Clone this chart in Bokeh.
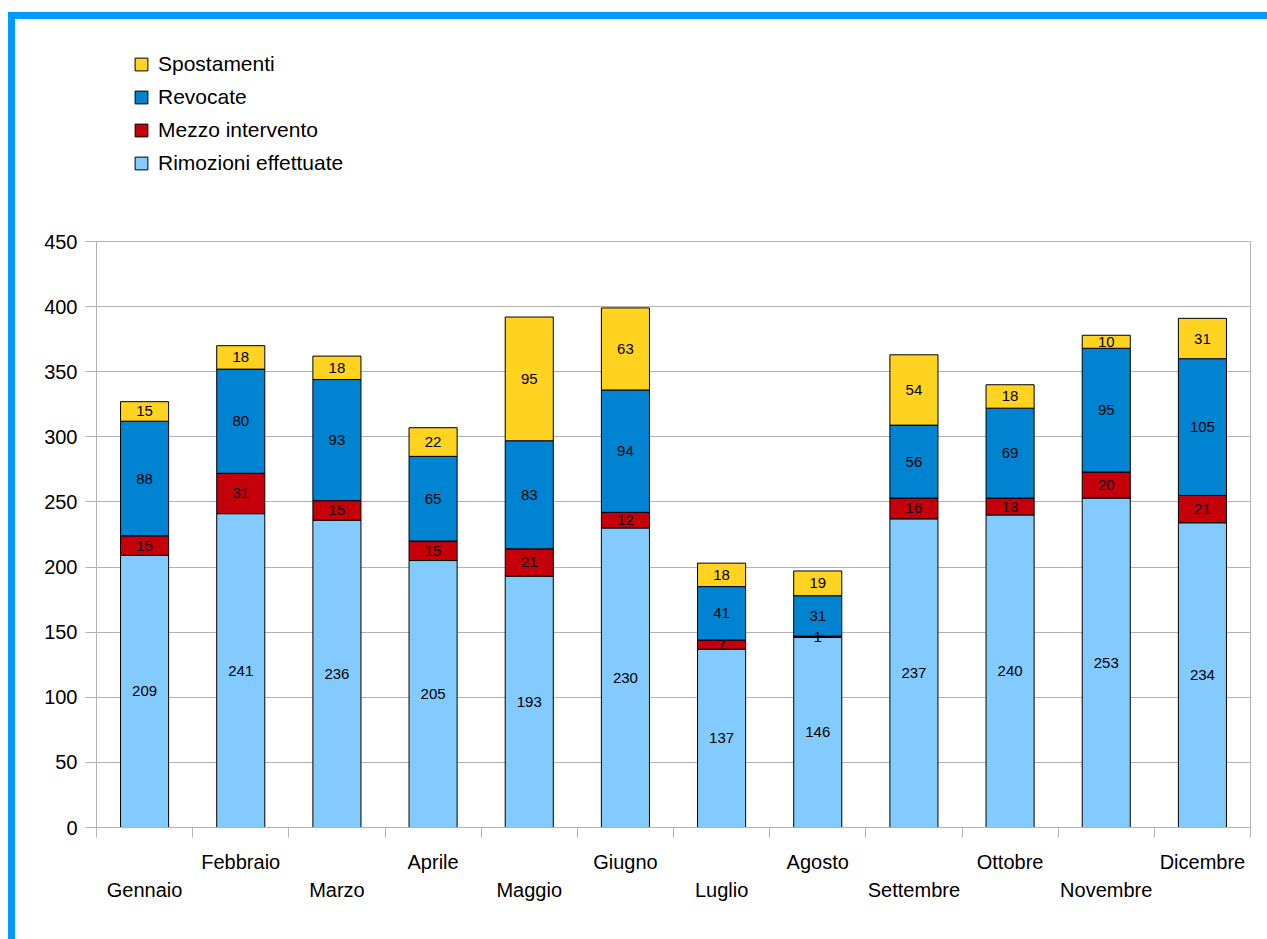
from bokeh.plotting import figure
from bokeh.layouts import column
from bokeh.models import ColumnDataSource, FixedTicker, Legend, LegendItem, Range1d, LinearAxis
from bokeh.embed import file_html
from bokeh.resources import INLINE
from bokeh.core.properties import value

months = ["Gennaio", "Febbraio", "Marzo", "Aprile", "Maggio", "Giugno",
          "Luglio", "Agosto", "Settembre", "Ottobre", "Novembre", "Dicembre"]
rimozioni = [209, 241, 236, 205, 193, 230, 137, 146, 237, 240, 253, 234]
mezzo = [15, 31, 15, 15, 21, 12, 7, 1, 16, 13, 20, 21]
revocate = [88, 80, 93, 65, 83, 94, 41, 31, 56, 69, 95, 105]
spostamenti = [15, 18, 18, 22, 95, 63, 18, 19, 54, 18, 10, 31]
y_ticks = [0, 50, 100, 150, 200, 250, 300, 350, 400, 450]

series_keys = ["r", "m", "v", "s"]
series_names = ["Rimozioni effettuate", "Mezzo intervento", "Revocate", "Spostamenti"]
series_vals = [rimozioni, mezzo, revocate, spostamenti]
colors = ["#83caff", "#c5000b", "#0084d1", "#ffd320"]

FONT = "Liberation Sans"
GRID = "#b3b3b3"
W = 1252
TOP_H = 180

xs = [i + 0.5 for i in range(len(months))]
data = dict(x=xs, month=months)
for k, v in zip(series_keys, series_vals):
    data[k] = v
src = ColumnDataSource(data)

# ---------- legend strip ----------
top = figure(width=W, height=TOP_H, x_axis_type=None, y_axis_type=None,
             x_range=Range1d(0, 1), y_range=Range1d(0, 1),
             output_backend="svg", toolbar_location=None,
             min_border_left=81, min_border_top=0, min_border_right=17, min_border_bottom=0)
top.outline_line_color = None
top.grid.visible = False
hidden = ColumnDataSource(dict(x=[0.5], top=[1]))
leg_rends = [top.vbar(x="x", top="top", width=0.5, source=hidden, visible=False,
                      fill_color=c, line_color="black") for c in colors]
items = [LegendItem(label=series_names[i], renderers=[leg_rends[i]]) for i in (3, 2, 1, 0)]
legend = Legend(items=items, location=(37, 24), orientation="vertical",
                border_line_color=None, background_fill_alpha=0, padding=0, margin=0,
                spacing=9, glyph_width=16, glyph_height=16, label_standoff=9,
                label_text_font=FONT, label_text_font_size="21px", label_text_color="black")
top.add_layout(legend, "center")

# ---------- main chart ----------
p = figure(width=W, height=920 - TOP_H, x_range=Range1d(0, 12), y_range=Range1d(0, 450),
           output_backend="svg", toolbar_location=None,
           min_border_left=81, min_border_right=17, min_border_top=222 - TOP_H, min_border_bottom=112)
p.outline_line_color = GRID

rends = p.vbar_stack(series_keys, x="x", width=0.5, source=src,
                     fill_color=colors, line_color=["black"] * 4, line_width=1)

# segment value labels
bottom = [0] * len(months)
for vals in series_vals:
    mids = [b + v / 2 for b, v in zip(bottom, vals)]
    lsrc = ColumnDataSource(dict(x=xs, y=mids, t=[str(v) for v in vals]))
    p.text(x="x", y="y", text="t", source=lsrc, text_align="center", text_baseline="middle",
           text_font=value(FONT), text_font_size="15px", text_color="black")
    bottom = [b + v for b, v in zip(bottom, vals)]

# grid
p.xgrid.visible = False
p.ygrid.ticker = FixedTicker(ticks=y_ticks)
p.ygrid.grid_line_color = GRID

# y axis
p.yaxis.ticker = FixedTicker(ticks=y_ticks)
p.yaxis.axis_line_color = None
p.yaxis.major_tick_line_color = GRID
p.yaxis.major_tick_out = 11
p.yaxis.major_tick_in = 0
p.yaxis.minor_tick_line_color = None
p.yaxis.major_label_text_font = FONT
p.yaxis.major_label_text_font_size = "20px"
p.yaxis.major_label_text_color = "black"
p.yaxis.major_label_standoff = 8

# x axis row 1: boundary ticks (minor) + labels of even months
hi = xs[1::2]
p.xaxis.ticker = FixedTicker(ticks=hi, minor_ticks=list(range(13)))
p.xaxis.major_label_overrides = {x: m for x, m in zip(hi, months[1::2])}
p.xaxis.axis_line_color = GRID
p.xaxis.major_tick_line_color = None
p.xaxis.major_tick_out = 10
p.xaxis.major_tick_in = 0
p.xaxis.minor_tick_line_color = GRID
p.xaxis.minor_tick_out = 10
p.xaxis.minor_tick_in = 0
p.xaxis.major_label_standoff = 13
p.xaxis.major_label_text_font = FONT
p.xaxis.major_label_text_font_size = "20px"
p.xaxis.major_label_text_color = "black"

# x axis row 2: labels of odd months
lo = xs[0::2]
ax2 = LinearAxis(ticker=FixedTicker(ticks=lo, minor_ticks=[]),
                 major_label_overrides={x: m for x, m in zip(lo, months[0::2])},
                 axis_line_color=None, major_tick_line_color=None, minor_tick_line_color=None,
                 major_tick_out=0, major_tick_in=0, major_label_standoff=3,
                 major_label_text_font=FONT, major_label_text_font_size="20px",
                 major_label_text_color="black")
p.add_layout(ax2, "below")

layout = column(top, p, spacing=0)
layout.styles = {"margin-left": "8px", "margin-top": "12px",
                 "border-left": "7px solid #0099ff", "border-top": "7px solid #0099ff"}

open("out.html", "w").write(file_html(layout, INLINE))
